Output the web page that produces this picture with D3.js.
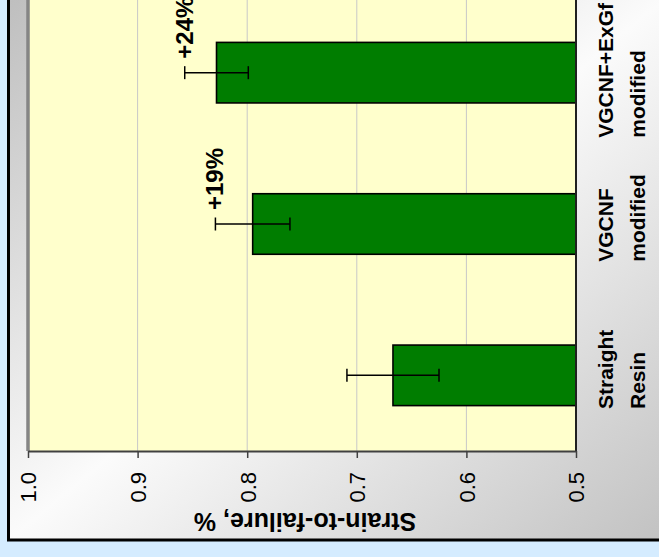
<!DOCTYPE html>
<html>
<head>
<meta charset="utf-8">
<script src="https://cdn.jsdelivr.net/npm/d3@7"></script>
<style>
  html, body { margin: 0; padding: 0; background: #d5ecff; }
  svg { display: block; }
  text { font-family: "Liberation Sans", Arial, sans-serif; }
</style>
</head>
<body>
<svg id="chart" width="659" height="557"></svg>
<script>
// ---- data ----
const categories = ["Straight Resin", "VGCNF modified", "VGCNF+ExGf modified"];
const categoryLines = [["Straight", "Resin"], ["VGCNF", "modified"], ["VGCNF+ExGf", "modified"]];
const strainValues = [0.667, 0.795, 0.828];
const strainErrors = [0.042, 0.034, 0.029];
const gainLabels = ["", "+19%", "+24%"];
const tickValues = [1.0, 0.9, 0.8, 0.7, 0.6, 0.5];
const axisTitle = "Strain-to-failure, %";

// ---- layout (chart drawn rotated: value axis horizontal, reversed) ----
const W = 659, H = 557;
const svg = d3.select("#chart");
const defs = svg.append("defs");
const grad = defs.append("linearGradient").attr("id", "bg")
  .attr("gradientUnits", "userSpaceOnUse")
  .attr("x1", 66).attr("y1", -45).attr("x2", 594).attr("y2", 595);
grad.append("stop").attr("offset", 0).attr("stop-color", "#bfbfbf");
grad.append("stop").attr("offset", 0.5).attr("stop-color", "#fbfbfb");
grad.append("stop").attr("offset", 1).attr("stop-color", "#c2c2c2");

svg.append("rect").attr("width", W).attr("height", H).attr("fill", "#d5ecff");
svg.append("rect").attr("x", 8.5).attr("y", -20).attr("width", 700).attr("height", 560)
  .attr("fill", "url(#bg)").attr("stroke", "#000").attr("stroke-width", 3);

const plotLeft = 28, plotRight = 576, plotTop = -3, plotBottom = 451;

const x = d3.scaleLinear().domain([1.0, 0.5]).range([plotLeft, plotRight]);
const y = d3.scaleBand().domain(categories).range([plotBottom, plotTop])
  .paddingInner(0.6).paddingOuter(0.3);

// plot area
svg.append("rect").attr("x", plotLeft).attr("y", plotTop - 10)
  .attr("width", plotRight - plotLeft).attr("height", plotBottom - plotTop + 10)
  .attr("fill", "#ffffcc");

// gridlines
svg.append("g").selectAll("line").data(tickValues.filter(t => t > 0.5 && t < 1.0))
  .join("line")
  .attr("x1", d => x(d)).attr("x2", d => x(d))
  .attr("y1", plotTop - 10).attr("y2", plotBottom)
  .attr("stroke", "#c8c8c8").attr("stroke-width", 1);

// plot area border (original top edge)
svg.append("line").attr("x1", plotLeft).attr("x2", plotLeft)
  .attr("y1", plotTop - 10).attr("y2", plotBottom)
  .attr("stroke", "#858585").attr("stroke-width", 3.5);

// bars
svg.append("g").selectAll("rect").data(categories).join("rect")
  .attr("x", (d, i) => x(strainValues[i]))
  .attr("y", d => y(d))
  .attr("width", (d, i) => x(0.5) - x(strainValues[i]))
  .attr("height", y.bandwidth())
  .attr("fill", "#007d00").attr("stroke", "#000").attr("stroke-width", 1.6);

// error bars
const eb = svg.append("g").attr("stroke", "#000").attr("stroke-width", 1.5);
categories.forEach((c, i) => {
  const cy = y(c) + y.bandwidth() / 2;
  const xa = x(strainValues[i] + strainErrors[i]);
  const xb = x(strainValues[i] - strainErrors[i]);
  eb.append("line").attr("x1", xa).attr("x2", xb).attr("y1", cy).attr("y2", cy);
  eb.append("line").attr("x1", xa).attr("x2", xa).attr("y1", cy - 6.5).attr("y2", cy + 6.5);
  eb.append("line").attr("x1", xb).attr("x2", xb).attr("y1", cy - 6.5).attr("y2", cy + 6.5);
});

// gain labels
categories.forEach((c, i) => {
  if (!gainLabels[i]) return;
  const cy = y(c) + y.bandwidth() / 2;
  const bx = x(strainValues[i] + strainErrors[i]) + 8;
  svg.append("text")
    .attr("transform", `translate(${bx},${cy - 14}) rotate(-90)`)
    .attr("text-anchor", "start")
    .attr("font-size", 24).attr("font-weight", "bold").attr("fill", "#000")
    .text(gainLabels[i]);
});

// category axis line (original bottom axis)
svg.append("line").attr("x1", plotRight).attr("x2", plotRight)
  .attr("y1", plotTop - 10).attr("y2", plotBottom)
  .attr("stroke", "#202020").attr("stroke-width", 2);

// value axis
const axis = svg.append("g").attr("transform", `translate(0,${plotBottom})`)
  .call(d3.axisBottom(x).tickValues(tickValues).tickFormat(d3.format(".1f"))
    .tickSize(7).tickSizeOuter(0));
axis.select(".domain").attr("stroke", "#404040").attr("stroke-width", 2);
axis.selectAll(".tick line").attr("stroke", "#404040").attr("stroke-width", 1.5);
axis.selectAll(".tick text")
  .attr("x", 0).attr("y", 0).attr("dy", "0.36em")
  .attr("text-anchor", "end")
  .attr("transform", "translate(0,21) rotate(-90)")
  .attr("font-size", 22).attr("font-family", "Liberation Sans, Arial, sans-serif")
  .attr("fill", "#000");

// category labels
categories.forEach((c, i) => {
  const cy = y(c) + y.bandwidth() / 2;
  const t = svg.append("text")
    .attr("font-size", 21).attr("font-weight", "bold").attr("fill", "#000")
    .attr("text-anchor", "start");
  categoryLines[i].forEach((ln, j) => {
    t.append("tspan").attr("x", 0).attr("y", j * 32).text(ln);
  });
  let maxW = 0;
  t.selectAll("tspan").each(function () { maxW = Math.max(maxW, this.getComputedTextLength()); });
  t.attr("transform", `translate(613,${Math.max(cy + maxW / 2 - 6, maxW + 3)}) rotate(-90)`);
});

// axis title
svg.append("text")
  .attr("transform", `translate(${(plotLeft + plotRight) / 2 + 3},513) rotate(180)`)
  .attr("text-anchor", "middle")
  .attr("font-size", 25).attr("font-weight", "bold").attr("fill", "#000")
  .text(axisTitle);
</script>
</body>
</html>
